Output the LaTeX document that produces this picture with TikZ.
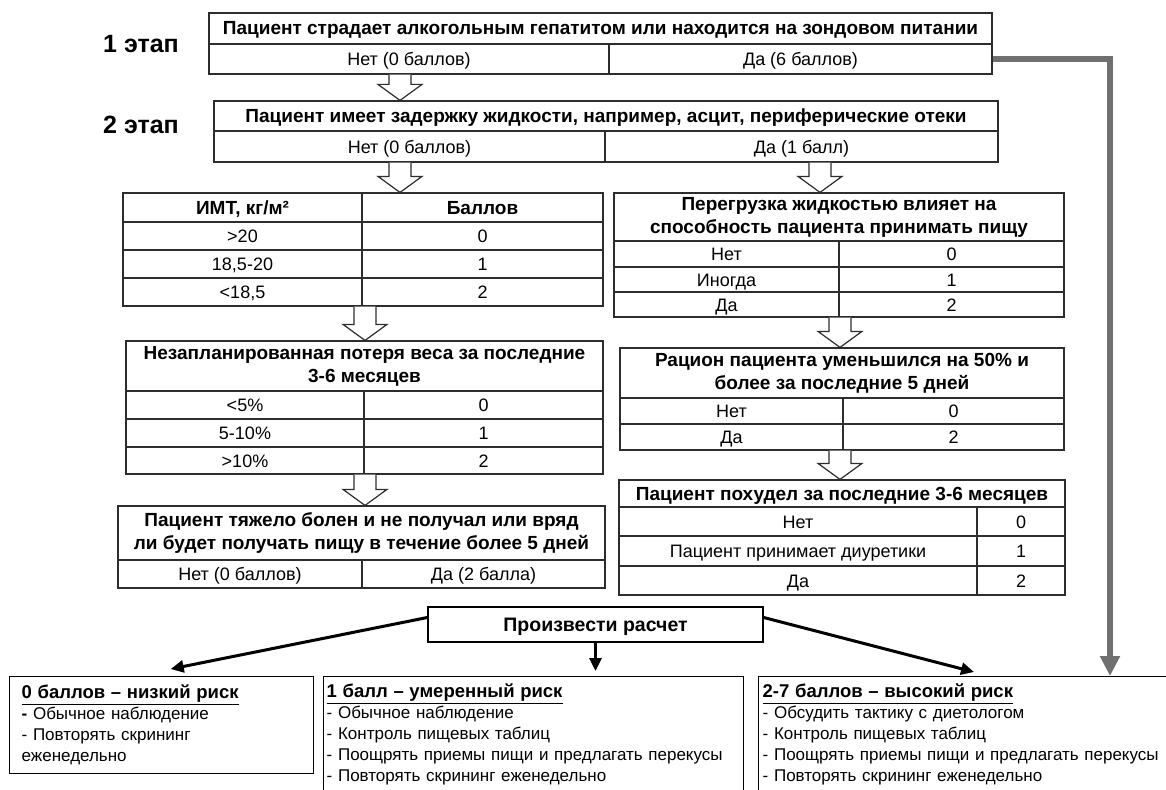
\documentclass[tikz,border=0pt]{standalone}
\usepackage{fontspec}
\setmainfont{Liberation Sans}
\usetikzlibrary{arrows.meta,calc}
\definecolor{tline}{RGB}{45,45,45}
\definecolor{garr}{RGB}{112,112,112}
\newcommand{\fsreg}{\fontsize{18}{23}\selectfont}
\newcommand{\fsbold}{\fontsize{19}{23}\selectfont\bfseries}
\newcommand{\fsbot}{\fontsize{17}{21}\selectfont}
\newcommand{\cellnode}[7][]{%
  \node[tcell,#1,minimum width={(#5-#3)*1pt},minimum height={(#6-#4)*1pt}] (#2) at ({(#3+#5)/2},{(#4+#6)/2}) {#7};}
\newcommand{\hollowarr}[2]{%
  \draw[harrow] ($(#1)+(-11,0)$) -- ($(#2)+(-11,-16)$) -- ($(#2)+(-22,-16)$) -- (#2) -- ($(#2)+(22,-16)$) -- ($(#2)+(11,-16)$) -- ($(#1)+(11,0)$);}
\begin{document}
\begin{tikzpicture}[x=1pt,y=-1pt,
  tcell/.style={draw=tline,line width=1.2pt,inner sep=0pt,font=\fsreg,align=center,text height=13pt,text depth=0pt},
  thead/.style={tcell,font=\fsbold},
  thead2/.style={tcell,font=\fsbold,text height={},text depth={}},
  harrow/.style={draw=tline,line width=1.2pt,fill=white,line join=miter},
  blk/.style={line width=3pt,-{Triangle[length=13pt,width=12pt]}},
  grayarr/.style={draw=garr,line width=6pt,-{Triangle[length=20pt,width=19pt]}},
  riskbox/.style={draw=black,line width=1.4pt,anchor=north west,align=left,inner ysep=7pt,font=\fsbot},
  stagelbl/.style={font=\fontsize{25}{28}\selectfont\bfseries},
  calcbox/.style={draw=black,line width=1.4pt,inner sep=0pt,font=\fontsize{19.5}{22}\selectfont\bfseries,text height=14pt,text depth=0pt}
]
\useasboundingbox (0,0) rectangle (1166,789);
\clip (0,0) rectangle (1166,789);
\fill[white] (0,0) rectangle (1166,789);

% stage labels
\node[stagelbl] (l1) at (141,44) {1 этап};
\node[stagelbl] (l2) at (141,125) {2 этап};

% stage 1
\cellnode[thead]{s1h}{209}{13}{992}{44}{Пациент страдает алкогольным гепатитом или находится на зондовом питании}
\cellnode{s1n}{209}{44}{609}{74}{Нет (0 баллов)}
\cellnode{s1y}{609}{44}{992}{74}{Да (6 баллов)}

% stage 2
\cellnode[thead]{s2h}{214}{101}{998}{131}{Пациент имеет задержку жидкости, например, асцит, периферические отеки}
\cellnode{s2n}{214}{131}{605}{162}{Нет (0 баллов)}
\cellnode{s2y}{605}{131}{998}{162}{Да (1 балл)}

% BMI table
\cellnode[thead]{b0a}{123}{193}{362}{222}{ИМТ, кг/м²}
\cellnode[thead]{b0b}{362}{193}{603}{222}{Баллов}
\cellnode{b1a}{123}{222}{362}{250}{>20}
\cellnode{b1b}{362}{222}{603}{250}{0}
\cellnode{b2a}{123}{250}{362}{278}{18,5-20}
\cellnode{b2b}{362}{250}{603}{278}{1}
\cellnode{b3a}{123}{278}{362}{306}{<18,5}
\cellnode{b3b}{362}{278}{603}{306}{2}

% weight loss table
\cellnode[thead2]{wlh}{126}{341}{603}{391}{Незапланированная потеря веса за последние\\3-6 месяцев}
\cellnode{wl1a}{126}{391}{364}{419}{<5\%}
\cellnode{wl1b}{364}{391}{603}{419}{0}
\cellnode{wl2a}{126}{419}{364}{447}{5-10\%}
\cellnode{wl2b}{364}{419}{603}{447}{1}
\cellnode{wl3a}{126}{447}{364}{474}{>10\%}
\cellnode{wl3b}{364}{447}{603}{474}{2}

% ill table
\cellnode[thead2]{illh}{118}{506}{605}{560}{Пациент тяжело болен и не получал или вряд\\ли будет получать пищу в течение более 5 дней}
\cellnode{illn}{118}{560}{362}{588}{Нет (0 баллов)}
\cellnode{illy}{362}{560}{605}{588}{Да (2 балла)}

% fluid table
\cellnode[thead2]{fh}{614}{193}{1064}{241}{Перегрузка жидкостью влияет на\\способность пациента принимать пищу}
\cellnode{f1a}{614}{241}{839}{267}{Нет}
\cellnode{f1b}{839}{241}{1064}{267}{0}
\cellnode{f2a}{614}{267}{839}{292}{Иногда}
\cellnode{f2b}{839}{267}{1064}{292}{1}
\cellnode{f3a}{614}{292}{839}{317}{Да}
\cellnode{f3b}{839}{292}{1064}{317}{2}

% ration table
\cellnode[thead2]{rh}{620}{348}{1064}{398}{Рацион пациента уменьшился на 50\% и\\более за последние 5 дней}
\cellnode{r1a}{620}{398}{843}{424}{Нет}
\cellnode{r1b}{843}{398}{1064}{424}{0}
\cellnode{r2a}{620}{424}{843}{450}{Да}
\cellnode{r2b}{843}{424}{1064}{450}{2}

% weight table
\cellnode[thead]{wh}{619}{480}{1065}{507}{Пациент похудел за последние 3-6 месяцев}
\cellnode{w1a}{619}{507}{977}{536}{Нет}
\cellnode{w1b}{977}{507}{1065}{536}{0}
\cellnode{w2a}{619}{536}{977}{566}{Пациент принимает диуретики}
\cellnode{w2b}{977}{536}{1065}{566}{1}
\cellnode{w3a}{619}{566}{977}{595}{Да}
\cellnode{w3b}{977}{566}{1065}{595}{2}

% hollow arrows
\coordinate (ax1) at (400,0);
\coordinate (ax2) at (820,0);
\coordinate (ax3) at (365,0);
\coordinate (ax4) at (840,0);
\coordinate (h1a) at (s1n.south -| ax1); \coordinate (h1b) at (s2h.north -| ax1);
\coordinate (h2a) at (s2n.south -| ax1); \coordinate (h2b) at (b0b.north -| ax1);
\coordinate (h3a) at (s2y.south -| ax2); \coordinate (h3b) at (fh.north -| ax2);
\coordinate (h4a) at (b3b.south -| ax3); \coordinate (h4b) at (wlh.north -| ax3);
\coordinate (h5a) at (wl3b.south -| ax3); \coordinate (h5b) at (illh.north -| ax3);
\coordinate (h6a) at (f3b.south -| ax4); \coordinate (h6b) at (rh.north -| ax4);
\coordinate (h7a) at (r2b.south -| ax4); \coordinate (h7b) at (wh.north -| ax4);
\hollowarr{h1a}{h1b}
\hollowarr{h2a}{h2b}
\hollowarr{h3a}{h3b}
\hollowarr{h4a}{h4b}
\hollowarr{h5a}{h5b}
\hollowarr{h6a}{h6b}
\hollowarr{h7a}{h7b}

% calculation box
\node[calcbox,minimum width=335pt,minimum height=35pt] (calc) at (595.5,624.5) {Произвести расчет};

% risk boxes
\node[riskbox,inner xsep=12pt,text width=280pt,minimum height=97pt] (rk0) at (9,676)
  {\underline{\fontsize{18.5}{21}\selectfont\bfseries 0 баллов – низкий риск}\\
   \textbf{-} Обычное наблюдение\\
   - Повторять скрининг\\
   еженедельно};
\node[riskbox,inner xsep=3pt,text width=414pt] (rk1) at (323,676)
  {\underline{\fontsize{18.5}{21}\selectfont\bfseries 1 балл – умеренный риск}\\
   - Обычное наблюдение\\
   - Контроль пищевых таблиц\\
   - Поощрять приемы пищи и предлагать перекусы\\
   - Повторять скрининг еженедельно};
\node[riskbox,inner xsep=4pt,text width=430pt] (rk2) at (758,676)
  {\underline{\fontsize{18.5}{21}\selectfont\bfseries 2-7 баллов – высокий риск}\\
   - Обсудить тактику с диетологом\\
   - Контроль пищевых таблиц\\
   - Поощрять приемы пищи и предлагать перекусы\\
   - Повторять скрининг еженедельно};

% black arrows
\coordinate (c0) at ($(calc.west)+(0,-7)$);
\coordinate (c2) at ($(calc.east)+(0,-7)$);
\coordinate (t0) at ($(rk0.north)+(9,-7)$);
\coordinate (t1) at ($(rk1.north)+(0,-5)$);
\coordinate (t2) at ($(rk2.north west)+(216,-4)$);
\draw[blk] (c0) -- (t0);
\draw[blk] (calc.south) -- (calc.south |- t1);
\draw[blk] (c2) -- (t2);

% gray arrow
\coordinate (g2) at ($(rk2.north west)+(352,0)$);
\draw[grayarr] (s1y.east) -| (g2);
\end{tikzpicture}
\end{document}
